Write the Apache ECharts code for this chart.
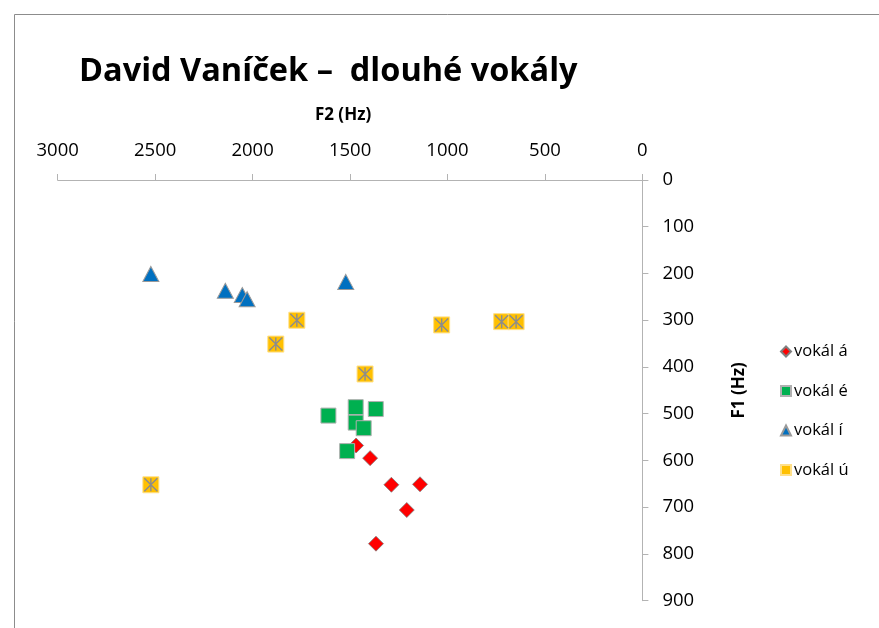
<!DOCTYPE html>
<html>
<head>
<meta charset="utf-8">
<script src="https://cdn.jsdelivr.net/npm/echarts@6/dist/echarts.min.js"></script>
<style>
html,body{margin:0;padding:0;background:#fff;}
#chart{width:879px;height:628px;}
</style>
</head>
<body>
<div id="chart"></div>
<script>
// Axis ticks
const xTicks = [0, 500, 1000, 1500, 2000, 2500, 3000];
const yTicks = [0, 100, 200, 300, 400, 500, 600, 700, 800, 900];

// vokál á (F2, F1 in Hz)
const aF2 = [1469, 1397, 1288, 1141, 1209, 1367];
const aF1 = [568, 595, 652, 651, 706, 778];
// vokál é
const eF2 = [1611, 1471, 1368, 1471, 1430, 1515];
const eF1 = [504, 486, 490, 519, 531, 580];
// vokál í
const iF2 = [2522, 2140, 2053, 2028, 1522];
const iF1 = [201, 237, 246, 255, 218];
// vokál ú
const uF2 = [1773, 1881, 1030, 722, 648, 1423, 2522];
const uF1 = [300, 351, 310, 303, 303, 415, 652];

const seriesNames = ['vokál á', 'vokál é', 'vokál í', 'vokál ú'];

function pairs(xs, ys) { return xs.map((x, i) => [x, ys[i]]); }

const FONT = 'Open Sans';
const chart = echarts.init(document.getElementById('chart'), null, {renderer: 'canvas'});
chart.setOption({
  animation: false,
  backgroundColor: '#ffffff',
  textStyle: {fontFamily: FONT},
  title: {
    text: 'David Vaníček –  dlouhé vokály',
    left: 74, top: 50,
    textStyle: {fontFamily: FONT, fontSize: 32.5, fontWeight: 'bold', color: '#000'}
  },
  graphic: [{
    type: 'rect', silent: true,
    shape: {x: 14.5, y: 14.5, width: 900, height: 700},
    style: {fill: 'none', stroke: '#8c8c8c', lineWidth: 1}
  }],
  legend: {
    orient: 'vertical', left: 775, top: 338,
    itemWidth: 10, itemHeight: 10, itemGap: 22.5,
    data: seriesNames,
    textStyle: {fontFamily: FONT, fontSize: 16.5, color: '#000', lineHeight: 15, padding: [0,0,0,-2]}
  },
  grid: {left: 57.7, right: 236.6, top: 180, bottom: 27.3, containLabel: false},
  xAxis: {
    type: 'value', position: 'top', inverse: true,
    min: 0, max: 3000, interval: 500,
    name: 'F2 (Hz)', nameLocation: 'middle', nameGap: 56,
    nameTextStyle: {fontFamily: FONT, fontSize: 17, fontWeight: 'bold', color: '#000', padding: [0, 14, 0, 0]},
    axisLine: {onZero: false, lineStyle: {color: '#b3b3b3', width: 1}},
    axisTick: {show: true, length: 6, lineStyle: {color: '#b3b3b3'}},
    axisLabel: {fontFamily: FONT, fontSize: 18.5, color: '#000', margin: 20,
      formatter: v => xTicks.includes(v) ? String(v) : ''},
    splitLine: {show: false}
  },
  yAxis: {
    type: 'value', position: 'right', inverse: true,
    min: 0, max: 900, interval: 100,
    name: 'F1 (Hz)', nameLocation: 'middle', nameGap: 88, nameRotate: 90,
    nameTextStyle: {fontFamily: FONT, fontSize: 17, fontWeight: 'bold', color: '#000'},
    axisLine: {onZero: false, lineStyle: {color: '#b3b3b3', width: 1}},
    axisTick: {show: true, length: 6, lineStyle: {color: '#b3b3b3'}},
    axisLabel: {fontFamily: FONT, fontSize: 18.5, color: '#000', margin: 20,
      formatter: v => yTicks.includes(v) ? String(v) : ''},
    splitLine: {show: false}
  },
  series: [
    {
      name: seriesNames[0], type: 'scatter', data: pairs(aF2, aF1),
      symbol: 'diamond', symbolSize: 15,
      itemStyle: {color: '#ff0000', borderColor: '#7f7f7f', borderWidth: 0.8, opacity: 1}
    },
    {
      name: seriesNames[1], type: 'scatter', data: pairs(eF2, eF1),
      symbol: 'rect', symbolSize: 15,
      itemStyle: {color: '#00b050', borderColor: '#b0b0b0', borderWidth: 1, opacity: 1}
    },
    {
      name: seriesNames[2], type: 'scatter', data: pairs(iF2, iF1),
      symbol: 'triangle', symbolSize: [16, 15],
      itemStyle: {color: '#0070c0', borderColor: '#9a9a9a', borderWidth: 1, opacity: 1}
    },
    {
      name: seriesNames[3], type: 'scatter', data: pairs(uF2, uF1),
      symbol: 'rect', symbolSize: 16,
      itemStyle: {color: '#ffc000', borderColor: '#ffe08a', borderWidth: 1, opacity: 1}
    },
    {
      name: 'ú-star', type: 'scatter', data: pairs(uF2, uF1),
      symbol: 'path://M0,0L10,10M10,0L0,10M5,0L5,10', symbolSize: 13,
      itemStyle: {color: 'none', borderColor: '#8c8c8c', borderWidth: 1.4, opacity: 1}
    }
  ]
});
</script>
</body>
</html>
